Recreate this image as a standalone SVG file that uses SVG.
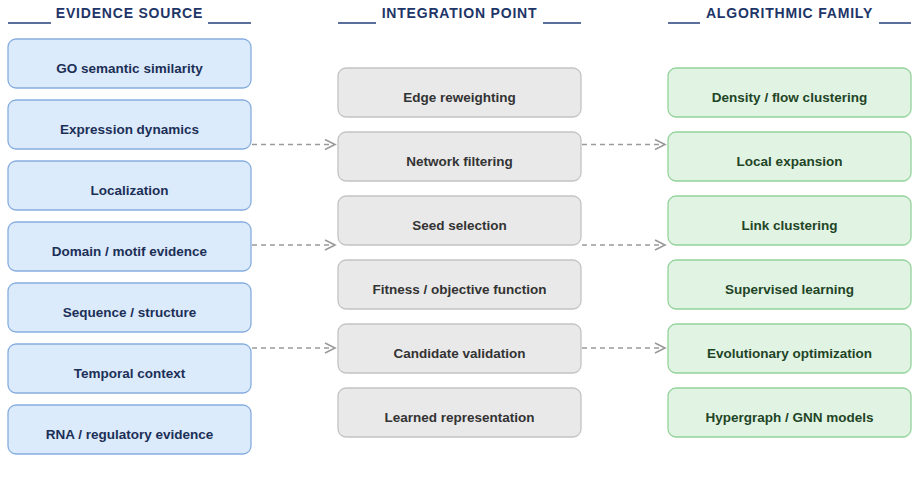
<svg xmlns="http://www.w3.org/2000/svg" width="918" height="500" viewBox="0 0 918 500">
<defs>
<style>
.hdr{font-family:"Liberation Sans",Arial,sans-serif;font-weight:bold;font-size:14px;letter-spacing:0.8px;fill:#1d3567;text-anchor:middle}
.hl{stroke:#5b6f9c;stroke-width:2}
.lbl{font-family:"Liberation Sans",Arial,sans-serif;font-weight:bold;font-size:13.5px;text-anchor:middle}
.ev rect{fill:#dcebfb;stroke:#86ade0;stroke-width:1.3}
.ev text{fill:#1b2f57}
.ip rect{fill:#e9e9e9;stroke:#c3c3c3;stroke-width:1.3}
.ip text{fill:#333333}
.al rect{fill:#e1f3e3;stroke:#92d39a;stroke-width:1.3}
.al text{fill:#1f4526}
.conn{fill:none;stroke:#9a9a9a;stroke-width:1.6;stroke-dasharray:5 4}
.head{fill:none;stroke:#9a9a9a;stroke-width:1.6}
</style>
</defs>
<rect width="918" height="500" fill="#ffffff"/>
<g id="headers">
<text class="hdr" x="129.5" y="17.5">EVIDENCE SOURCE</text>
<line class="hl" x1="8" y1="23" x2="51" y2="23"/><line class="hl" x1="208" y1="23" x2="251" y2="23"/>
<text class="hdr" x="459.5" y="17.5">INTEGRATION POINT</text>
<line class="hl" x1="338" y1="23" x2="376" y2="23"/><line class="hl" x1="543" y1="23" x2="581" y2="23"/>
<text class="hdr" x="789.5" y="17.5">ALGORITHMIC FAMILY</text>
<line class="hl" x1="668" y1="23" x2="700" y2="23"/><line class="hl" x1="879" y1="23" x2="911" y2="23"/>
</g>
<g id="ev1" class="ev"><rect x="8" y="39" width="243" height="49" rx="8"/><text class="lbl" x="129.5" y="73">GO semantic similarity</text></g>
<g id="ev2" class="ev"><rect x="8" y="100" width="243" height="49" rx="8"/><text class="lbl" x="129.5" y="134">Expression dynamics</text></g>
<g id="ev3" class="ev"><rect x="8" y="161" width="243" height="49" rx="8"/><text class="lbl" x="129.5" y="195">Localization</text></g>
<g id="ev4" class="ev"><rect x="8" y="222" width="243" height="49" rx="8"/><text class="lbl" x="129.5" y="256">Domain / motif evidence</text></g>
<g id="ev5" class="ev"><rect x="8" y="283" width="243" height="49" rx="8"/><text class="lbl" x="129.5" y="317">Sequence / structure</text></g>
<g id="ev6" class="ev"><rect x="8" y="344" width="243" height="49" rx="8"/><text class="lbl" x="129.5" y="378">Temporal context</text></g>
<g id="ev7" class="ev"><rect x="8" y="405" width="243" height="49" rx="8"/><text class="lbl" x="129.5" y="439">RNA / regulatory evidence</text></g>
<g id="ip1" class="ip"><rect x="338" y="68" width="243" height="49" rx="8"/><text class="lbl" x="459.5" y="102">Edge reweighting</text></g>
<g id="ip2" class="ip"><rect x="338" y="132" width="243" height="49" rx="8"/><text class="lbl" x="459.5" y="166">Network filtering</text></g>
<g id="ip3" class="ip"><rect x="338" y="196" width="243" height="49" rx="8"/><text class="lbl" x="459.5" y="230">Seed selection</text></g>
<g id="ip4" class="ip"><rect x="338" y="260" width="243" height="49" rx="8"/><text class="lbl" x="459.5" y="294">Fitness / objective function</text></g>
<g id="ip5" class="ip"><rect x="338" y="324" width="243" height="49" rx="8"/><text class="lbl" x="459.5" y="358">Candidate validation</text></g>
<g id="ip6" class="ip"><rect x="338" y="388" width="243" height="49" rx="8"/><text class="lbl" x="459.5" y="422">Learned representation</text></g>
<g id="al1" class="al"><rect x="668" y="68" width="243" height="49" rx="8"/><text class="lbl" x="789.5" y="102">Density / flow clustering</text></g>
<g id="al2" class="al"><rect x="668" y="132" width="243" height="49" rx="8"/><text class="lbl" x="789.5" y="166">Local expansion</text></g>
<g id="al3" class="al"><rect x="668" y="196" width="243" height="49" rx="8"/><text class="lbl" x="789.5" y="230">Link clustering</text></g>
<g id="al4" class="al"><rect x="668" y="260" width="243" height="49" rx="8"/><text class="lbl" x="789.5" y="294">Supervised learning</text></g>
<g id="al5" class="al"><rect x="668" y="324" width="243" height="49" rx="8"/><text class="lbl" x="789.5" y="358">Evolutionary optimization</text></g>
<g id="al6" class="al"><rect x="668" y="388" width="243" height="49" rx="8"/><text class="lbl" x="789.5" y="422">Hypergraph / GNN models</text></g>
<g id="connectors">
<line class="conn" x1="252" y1="144.5" x2="334" y2="144.5"/><polyline class="head" points="325,139.5 335,144.5 325,149.5"/>
<line class="conn" x1="252" y1="245" x2="334" y2="245"/><polyline class="head" points="325,240 335,245 325,250"/>
<line class="conn" x1="252" y1="348" x2="334" y2="348"/><polyline class="head" points="325,343 335,348 325,353"/>
<line class="conn" x1="582" y1="144.5" x2="664" y2="144.5"/><polyline class="head" points="655,139.5 665,144.5 655,149.5"/>
<line class="conn" x1="582" y1="245" x2="664" y2="245"/><polyline class="head" points="655,240 665,245 655,250"/>
<line class="conn" x1="582" y1="348" x2="664" y2="348"/><polyline class="head" points="655,343 665,348 655,353"/>
</g>
</svg>
